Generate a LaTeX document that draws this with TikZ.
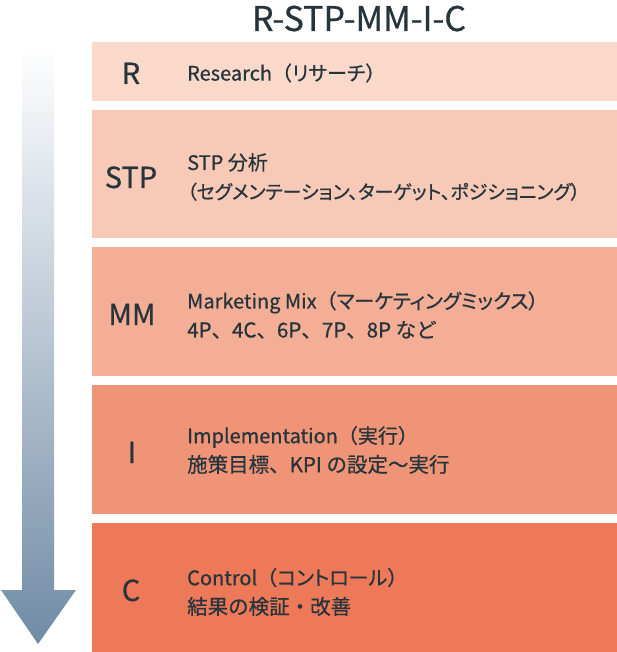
\documentclass[tikz,border=0pt]{standalone}
\usepackage{fontspec}
\setmainfont{Noto Sans CJK JP}[RawFeature={+palt}, BoldFont={Noto Sans CJK JP}, BoldFeatures={FakeBold=0.6}]
\newfontfamily\fullw{Noto Sans CJK JP}[BoldFont={Noto Sans CJK JP}, BoldFeatures={FakeBold=0.6}]

\definecolor{rowr}{RGB}{250, 216, 202}
\definecolor{rows}{RGB}{247, 201, 182}
\definecolor{rowm}{RGB}{243, 174, 149}
\definecolor{rowi}{RGB}{240, 148, 119}
\definecolor{rowc}{RGB}{237, 121, 88}
\definecolor{ink}{RGB}{38, 52, 60}
\definecolor{arr}{RGB}{112, 139, 166}

\tikzset{
  rowbox/.style={draw=none, anchor=north west, inner sep=0pt, minimum width=525pt},
  lab/.style={anchor=base, text=ink, font=\fontsize{29}{29}\selectfont\bfseries},
  desc/.style={anchor=west, align=left, text=ink, inner sep=0pt,
    font=\fontsize{20}{29}\selectfont\bfseries}
}

\begin{document}
\begin{tikzpicture}[x=1pt, y=1pt]
  \useasboundingbox (0, 0) rectangle (617, -652);

  % arrow
  \shade[top color=white, bottom color=arr] (22, -46) -- (54, -46) -- (54, -590)
    -- (76, -590) -- (38, -644) -- (1, -590) -- (22, -590) -- cycle;

  \node[text=ink, anchor=base, font=\fontsize{34}{34}\selectfont\bfseries] (title) at (359, -31) {R-STP-MM-I-C};

  \node[rowbox, fill=rowr, minimum height=59pt] (boxR) at (92, -42) {};
  \node[rowbox, fill=rows, minimum height=128pt] (boxS) at (92, -110) {};
  \node[rowbox, fill=rowm, minimum height=129pt] (boxM) at (92, -247) {};
  \node[rowbox, fill=rowi, minimum height=129pt] (boxI) at (92, -385) {};
  \node[rowbox, fill=rowc, minimum height=129pt] (boxC) at (92, -523) {};

  \node[lab] (labR) at (131, -84) {R};
  \node[lab] (labS) at (131, -188) {STP};
  \node[lab] (labM) at (132, -325) {MM};
  \node[lab] (labI) at (132, -463) {I};
  \node[lab] (labC) at (131, -601) {C};

  \node[desc] (descR) at (187, -73) {Research{\fullw （}リサーチ{\fullw ）}};
  \node[desc] (descS) at (187, -177) {STP {\fullw 分析}\\{\fontsize{19}{29}\selectfont（セグメンテーション、ターゲット、ポジショニング）}};
  \node[desc] (descM) at (187, -315) {Marketing Mix{\fullw （}マーケティングミックス）\\{\fullw\fontsize{20.5}{29}\selectfont 4P、4C、6P、7P、8P など}};
  \node[desc] (descI) at (187, -450) {Implementation{\fullw （実行）}\\{\fullw\fontsize{20.5}{29}\selectfont 施策目標、KPI の設定〜実行}};
  \node[desc] (descC) at (187, -592) {Control{\fullw （}コントロール{\fullw ）}\\{\fullw\fontsize{20.5}{29}\selectfont 結果の検証・改善}};
\end{tikzpicture}
\end{document}
